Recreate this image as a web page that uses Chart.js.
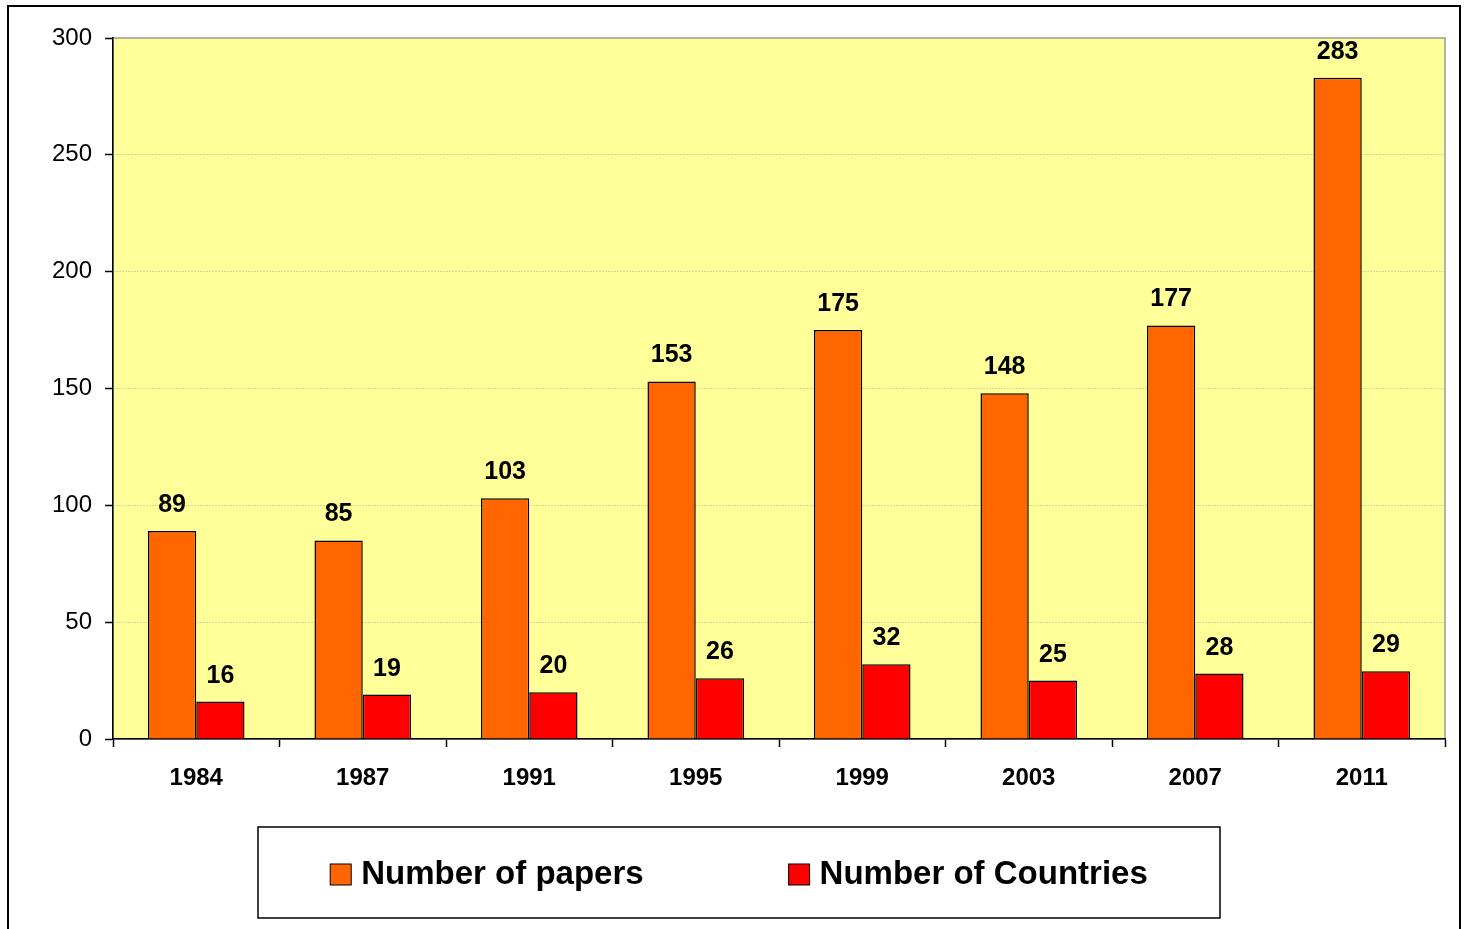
<!DOCTYPE html>
<html>
<head>
<meta charset="utf-8">
<script src="https://cdn.jsdelivr.net/npm/chart.js@4/dist/chart.umd.min.js"></script>
<style>
  body { margin: 0; background: #fff; }
  #wrap { width: 1464px; height: 929px; position: relative; }
</style>
</head>
<body>
<div id="wrap"><canvas id="grafik"></canvas></div>
<script>
const years = ['1984', '1987', '1991', '1995', '1999', '2003', '2007', '2011'];
const papers = [89, 85, 103, 153, 175, 148, 177, 283];
const countries = [16, 19, 20, 26, 32, 25, 28, 29];
const yTicks = [0, 50, 100, 150, 200, 250, 300];

const FONT = '"Liberation Sans", Arial, sans-serif';

// yellow plot background, outer frame, gray plot border
const backdrop = {
  id: 'backdrop',
  beforeDraw(chart) {
    const { ctx, chartArea: a } = chart;
    ctx.save();
    ctx.strokeStyle = '#000';
    ctx.lineWidth = 2;
    ctx.strokeRect(8, 6, 1452, 960);
    ctx.fillStyle = '#FFFF99';
    ctx.fillRect(a.left, a.top, a.right - a.left, a.bottom - a.top);
    ctx.strokeStyle = '#9a9a9a';
    ctx.lineWidth = 1.5;
    ctx.strokeRect(a.left, a.top, a.right - a.left, a.bottom - a.top);
    ctx.restore();
  }
};

// value labels above bars
const barLabels = {
  id: 'barLabels',
  afterDatasetsDraw(chart) {
    const ctx = chart.ctx;
    ctx.save();
    ctx.font = 'bold 25px ' + FONT;
    ctx.fillStyle = '#000';
    ctx.textAlign = 'center';
    ctx.textBaseline = 'alphabetic';
    chart.data.datasets.forEach((ds, i) => {
      chart.getDatasetMeta(i).data.forEach((bar, j) => {
        ctx.fillText(ds.data[j], bar.x, bar.y - 19);
      });
    });
    ctx.restore();
  }
};

// boxed legend under the axis
const boxLegend = {
  id: 'boxLegend',
  afterDraw(chart) {
    const ctx = chart.ctx;
    const box = { x: 258, y: 827, w: 962, h: 91 };
    ctx.save();
    ctx.strokeStyle = '#000';
    ctx.lineWidth = 1.5;
    ctx.strokeRect(box.x, box.y, box.w, box.h);
    ctx.font = 'bold 33px ' + FONT;
    const sq = 21, gapText = 10, gapItem = 145;
    const items = chart.data.datasets.map(ds => ({
      label: ds.label, color: ds.backgroundColor, w: sq + gapText + ctx.measureText(ds.label).width
    }));
    const total = items.reduce((s, it) => s + it.w, 0) + gapItem * (items.length - 1);
    let x = box.x + box.w / 2 - total / 2;
    const cy = box.y + box.h / 2 + 2;
    items.forEach(it => {
      ctx.fillStyle = it.color;
      ctx.fillRect(x, cy - sq / 2, sq, sq);
      ctx.strokeStyle = '#000';
      ctx.lineWidth = 1;
      ctx.strokeRect(x, cy - sq / 2, sq, sq);
      ctx.fillStyle = '#000';
      ctx.textBaseline = 'middle';
      ctx.fillText(it.label, x + sq + gapText, cy);
      x += it.w + gapItem;
    });
    ctx.restore();
  }
};

new Chart(document.getElementById('grafik').getContext('2d'), {
  type: 'bar',
  data: {
    labels: years,
    datasets: [{
      label: 'Number of papers',
      data: papers,
      backgroundColor: '#FF6600',
      borderColor: '#000',
      borderWidth: 1.5,
      barPercentage: 1,
      categoryPercentage: 0.58
    }, {
      label: 'Number of Countries',
      data: countries,
      backgroundColor: '#FF0000',
      borderColor: '#000',
      borderWidth: 1.5,
      barPercentage: 1,
      categoryPercentage: 0.58
    }]
  },
  options: {
    responsive: true,
    maintainAspectRatio: false,
    animation: false,
    layout: { padding: { top: 38, right: 19, left: 0, bottom: 0 } },
    plugins: {
      legend: { display: false },
      tooltip: { enabled: false }
    },
    scales: {
      x: {
        afterFit(scale) { scale.height = 190; },
        grid: { drawOnChartArea: false, drawTicks: true, tickLength: 8, tickColor: '#000', tickWidth: 1.5, offset: true },
        border: { color: '#000', width: 1.5 },
        ticks: { color: '#000', padding: 17, font: { family: FONT, size: 24, weight: 'bold' } }
      },
      y: {
        min: 0,
        max: 300,
        afterFit(scale) { scale.width = 113; },
        afterBuildTicks(scale) { scale.ticks = yTicks.map(v => ({ value: v })); },
        grid: { color: '#b0b0a0', lineWidth: 1, tickColor: '#000', tickLength: 8, tickWidth: 1.5 },
        border: { color: '#000', width: 1.5, dash: [1, 2] },
        ticks: { color: '#000', padding: 13, font: { family: FONT, size: 24 } }
      }
    }
  },
  plugins: [backdrop, barLabels, boxLegend]
});
</script>
</body>
</html>
